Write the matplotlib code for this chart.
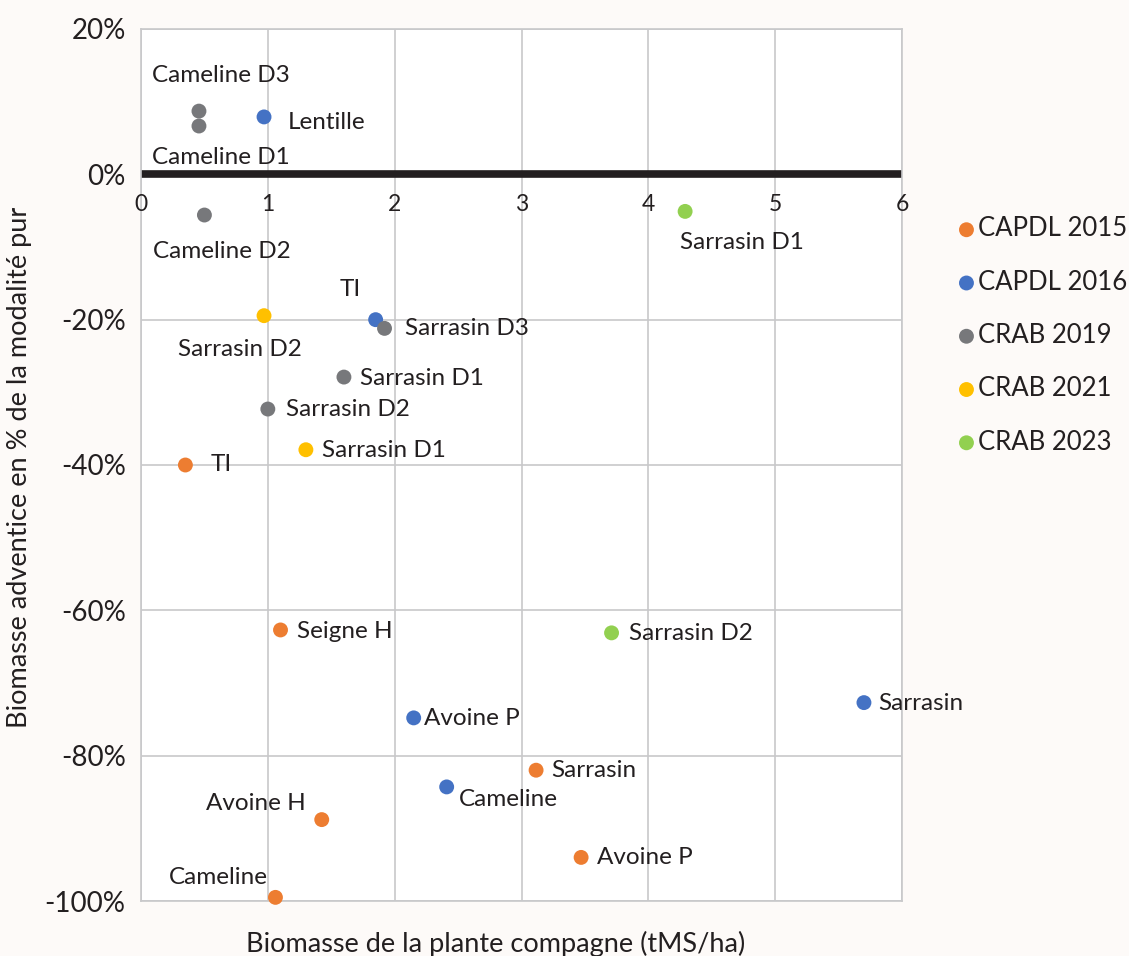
import matplotlib
matplotlib.use("Agg")
import matplotlib.pyplot as plt
from matplotlib.ticker import FuncFormatter

plt.rcParams['font.family'] = ['Lato', 'DejaVu Sans']

series_names = ["CAPDL 2015", "CAPDL 2016", "CRAB 2019", "CRAB 2021", "CRAB 2023"]
series_colors = ["#ED7D31", "#4472C4", "#77787B", "#FFC000", "#92D050"]

capdl2015_labels = ["TI", "Seigne H", "Avoine H", "Cameline", "Sarrasin", "Avoine P"]
capdl2015_x = [0.35, 1.10, 1.425, 1.06, 3.115, 3.47]
capdl2015_y = [-40.0, -62.7, -88.8, -99.5, -82.0, -94.0]

capdl2016_labels = ["Lentille", "TI", "Avoine P", "Cameline", "Sarrasin"]
capdl2016_x = [0.97, 1.85, 2.15, 2.41, 5.70]
capdl2016_y = [7.9, -20.0, -74.8, -84.3, -72.7]

crab2019_labels = ["Cameline D3", "Cameline D1", "Cameline D2", "Sarrasin D3", "Sarrasin D1", "Sarrasin D2"]
crab2019_x = [0.457, 0.457, 0.50, 1.92, 1.60, 1.00]
crab2019_y = [8.7, 6.65, -5.6, -21.2, -27.9, -32.3]

crab2021_labels = ["Sarrasin D2", "Sarrasin D1"]
crab2021_x = [0.97, 1.30]
crab2021_y = [-19.45, -37.9]

crab2023_labels = ["Sarrasin D1", "Sarrasin D2"]
crab2023_x = [4.29, 3.71]
crab2023_y = [-5.1, -63.1]

x_ticks = [0, 1, 2, 3, 4, 5, 6]
y_ticks = [20, 0, -20, -40, -60, -80, -100]

# label placement (pixel offsets, horizontal alignment)
off2015 = [((25, 0), 'left'), ((16, -2), 'left'), ((-16, 16), 'right'), ((-8, 20), 'right'), ((15, 0), 'left'), ((16, 0), 'left')]
off2016 = [((24, -6), 'left'), ((-25, 30), 'center'), ((10, -1), 'left'), ((12, -13), 'left'), ((14, -1), 'left')]
off2019 = [((22, 36), 'center'), ((22, -31), 'center'), ((17, -36), 'center'), ((20, 0), 'left'), ((16, -1), 'left'), ((18, 0), 'left')]
off2021 = [((-24, -34), 'center'), ((16, -1), 'left')]
off2023 = [((-5, -31), 'left'), ((17, -1), 'left')]

data = [
    (capdl2015_x, capdl2015_y, capdl2015_labels, off2015),
    (capdl2016_x, capdl2016_y, capdl2016_labels, off2016),
    (crab2019_x, crab2019_y, crab2019_labels, off2019),
    (crab2021_x, crab2021_y, crab2021_labels, off2021),
    (crab2023_x, crab2023_y, crab2023_labels, off2023),
]

text_color = "#231F20"
grid_color = "#C8C8CA"

fig = plt.figure(figsize=(11.29, 9.56), dpi=100)
fig.patch.set_facecolor("#FDFAF8")
ax = fig.add_axes([141/1129, 55/956, (902-141)/1129, (901-29)/956])
ax.set_facecolor("white")

ax.set_xlim(0, 6)
ax.set_ylim(-100, 20)
ax.set_xticks(x_ticks)
ax.set_yticks(y_ticks)
ax.grid(True, color=grid_color, linewidth=1.2, zorder=0)
for s in ax.spines.values():
    s.set_color(grid_color)
    s.set_linewidth(1.2)
ax.tick_params(length=0)
ax.yaxis.set_major_formatter(FuncFormatter(lambda v, p: f"{int(v)}%"))
ax.tick_params(axis='y', labelsize=20, labelcolor=text_color, pad=11)
ax.set_xticklabels([])

ax.axhline(0, color=text_color, linewidth=5.5, zorder=2)

# x tick labels just below zero line
for xv in x_ticks:
    ax.annotate(str(xv), (xv, 0), xytext=(0, -20), textcoords='offset pixels',
                ha='center', va='top', fontsize=16.5, color=text_color)

for (xs, ys, labs, offs), name, col in zip(data, series_names, series_colors):
    ax.scatter(xs, ys, s=115, color=col, zorder=4, label=name, edgecolors='none', clip_on=False)
    for x, y, lab, (o, ha) in zip(xs, ys, labs, offs):
        ax.annotate(lab, (x, y), xytext=o, textcoords='offset pixels', ha=ha, va='center',
                    fontsize=17.5, color=text_color, zorder=5, annotation_clip=False)

leg = ax.legend(loc='upper left', bbox_to_anchor=(0.831, 0.787), bbox_transform=fig.transFigure,
                frameon=False, fontsize=18.5, handletextpad=-0.15, labelspacing=1.1,
                markerscale=1.0, handlelength=1.2, borderpad=0)
for t in leg.get_texts():
    t.set_color(text_color)

fig.text(20/1129, 1 - 467/956, "Biomasse adventice en % de la modalité pur", rotation=90,
         ha='center', va='center', fontsize=19.5, color=text_color)
fig.text(496/1129, 1 - 944/956, "Biomasse de la plante compagne (tMS/ha)",
         ha='center', va='center', fontsize=19.5, color=text_color)

fig.savefig("out.png", dpi=100, facecolor=fig.get_facecolor())
